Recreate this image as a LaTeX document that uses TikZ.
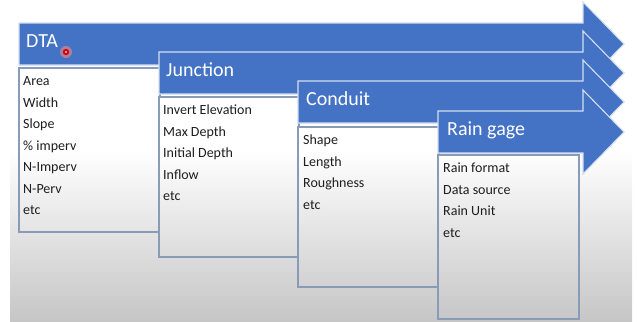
\documentclass[tikz,border=0pt]{standalone}
\usepackage{fontspec}
\setmainfont{Carlito}
\definecolor{stageblue}{HTML}{4472C4}
\definecolor{stageedge}{HTML}{D3DEF1}
\definecolor{boxedge}{HTML}{8A9BB8}
\definecolor{slidegray}{HTML}{C6C6C6}
\definecolor{itemtext}{HTML}{1E1E1E}

% slide background: white top, fading to grey towards the bottom
\newcommand\slideshade{%
  \fill[white] (10,-5) rectangle (632,150);
  \shade[top color=white,bottom color=slidegray] (10,150) rectangle (632,321);%
}

\begin{document}
\begin{tikzpicture}[x=1bp,y=-1bp,
  stagearrow/.style={fill=stageblue,draw=stageedge,line width=1.1bp,line join=miter},
  stagebox/.style={draw=boxedge,line width=1.2bp},
  stagetitle/.style={anchor=base west,inner sep=0pt,text=white,
    font=\fontsize{20bp}{24bp}\selectfont},
  item/.style={anchor=base west,inner sep=0pt,text=itemtext,
    font=\fontsize{14bp}{16bp}\selectfont}]
\useasboundingbox (0,0) rectangle (637,321);
\slideshade

% ---- DTA ----
\draw[stagearrow] (19,23) -- (583,23) -- (583,2) -- (624,44) -- (583,86) -- (583,65) -- (19,65) -- cycle;
\begin{scope}\clip (19,68) rectangle (160,232); \slideshade \end{scope}
\draw[stagebox] (19,68) rectangle (160,232);
\node[stagetitle] (dta) at (26,47.5) {DTA};
\foreach \t [count=\i] in {Area,Width,Slope,\% imperv,N-Imperv,N-Perv,etc}
  \node[item] (dta-\i) at (23,{85.5+21.5*(\i-1)}) {\t};

% pointer dot
\fill[red!45,opacity=.55] (66,52) circle (6);
\fill[red!85!black] (66,52) circle (3.2);
\fill[red!25] (66,52) circle (1.1);

% ---- Junction ----
\draw[stagearrow] (159,52) -- (583,52) -- (583,31) -- (624,73) -- (583,115) -- (583,94) -- (159,94) -- cycle;
\begin{scope}\clip (159,97) rectangle (299,257); \slideshade \end{scope}
\draw[stagebox] (159,97) rectangle (299,257);
\node[stagetitle] (junction) at (166,76.5) {Junction};
\foreach \t [count=\i] in {Invert Elevation,Max Depth,Initial Depth,Inflow,etc}
  \node[item] (junction-\i) at (163,{114.5+21.5*(\i-1)}) {\t};

% ---- Conduit ----
\draw[stagearrow] (298,81) -- (583,81) -- (583,60) -- (624,102) -- (583,144) -- (583,123) -- (298,123) -- cycle;
\begin{scope}\clip (298,127) rectangle (439,287); \slideshade \end{scope}
\draw[stagebox] (298,127) rectangle (439,287);
\node[stagetitle] (conduit) at (306,105.5) {Conduit};
\foreach \t [count=\i] in {Shape,Length,Roughness,etc}
  \node[item] (conduit-\i) at (303,{144.5+21.5*(\i-1)}) {\t};

% ---- Rain gage ----
\draw[stagearrow] (438,111) -- (583,111) -- (583,90) -- (624,132) -- (583,174) -- (583,153) -- (438,153) -- cycle;
\begin{scope}\clip (438,155) rectangle (579,319); \slideshade \end{scope}
\draw[stagebox] (438,155) rectangle (579,319);
\node[stagetitle] (raingage) at (447,135) {Rain gage};
\foreach \t [count=\i] in {Rain format,Data source,Rain Unit,etc}
  \node[item] (raingage-\i) at (443,{172.5+21.5*(\i-1)}) {\t};
\end{tikzpicture}
\end{document}
